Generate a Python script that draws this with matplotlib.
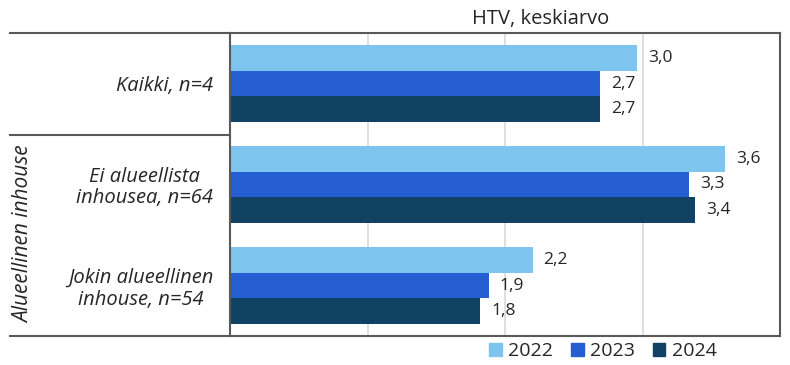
import matplotlib
matplotlib.use("Agg")
import matplotlib.pyplot as plt
from matplotlib.lines import Line2D
from matplotlib.patches import Patch
import numpy as np

categories = ["Kaikki, n=4", "Ei alueellista\ninhousea, n=64", "Jokin alueellinen\ninhouse, n=54"]
years = ["2022", "2023", "2024"]
values = {
    "2022": [2.96, 3.60, 2.20],
    "2023": [2.69, 3.34, 1.88],
    "2024": [2.69, 3.38, 1.82],
}
labels = {
    "2022": ["3,0", "3,6", "2,2"],
    "2023": ["2,7", "3,3", "1,9"],
    "2024": ["2,7", "3,4", "1,8"],
}
colors = {"2022": "#7dc4ee", "2023": "#255ed0", "2024": "#114263"}
group_label = "Alueellinen inhouse"
title = "HTV, keskiarvo"

plt.rcParams["font.family"] = ["Open Sans", "DejaVu Sans"]

W, H = 790, 365
fig = plt.figure(figsize=(W / 100, H / 100), dpi=100)
ax = fig.add_axes([230 / W, 1 - 336 / H, 550 / W, 303 / H])

bar_h = 0.256
y = np.arange(len(categories))
for i, yr in enumerate(years):
    pos = y + (i - 1) * bar_h
    ax.barh(pos, values[yr], height=bar_h, color=colors[yr], label=yr, zorder=2)
    for p, v, lab in zip(pos, values[yr], labels[yr]):
        ax.annotate(lab, (v, p), xytext=(8, 0), textcoords="offset points",
                    ha="left", va="center", fontsize=12.5, color="#262626")

ax.set_xlim(0, 4)
ax.set_ylim(len(categories) - 0.5, -0.5)
ax.set_xticks([1, 2, 3])
ax.set_xticklabels([])
ax.tick_params(axis="x", length=0)
ax.grid(axis="x", color="#d9d9d9", linewidth=1.2, zorder=0)
ax.set_yticks(y)
ax.set_yticklabels(categories, fontsize=14.5, style="italic", color="#262626",
                   multialignment="center", linespacing=1.1)
ax.tick_params(axis="y", length=0, pad=12)
for s in ax.spines.values():
    s.set_color("#595959")
    s.set_linewidth(1.5)

# left header lines
lc = "#595959"
fig.add_artist(Line2D([10 / W, 230 / W], [1 - 33 / H, 1 - 33 / H], color=lc, lw=1.5))
fig.add_artist(Line2D([10 / W, 230 / W], [1 - 135 / H, 1 - 135 / H], color=lc, lw=1.5))
fig.add_artist(Line2D([10 / W, 230 / W], [1 - 336 / H, 1 - 336 / H], color=lc, lw=1.5))

fig.text(24 / W, 1 - 234 / H, group_label, rotation=90, ha="center", va="center",
         fontsize=15, style="italic", color="#262626")
fig.text(541 / W, 1 - 19 / H, title, ha="center", va="center", fontsize=14.5, color="#262626")

handles = [Patch(color=colors[yr], label=yr) for yr in years]
fig.legend(handles=handles, loc="center", bbox_to_anchor=(603 / W, 1 - 351 / H),
           ncol=3, frameon=False, fontsize=14, handlelength=0.65, handleheight=0.65,
           handletextpad=0.35, columnspacing=0.9, labelcolor="#262626")

fig.savefig("out.png", dpi=100)
